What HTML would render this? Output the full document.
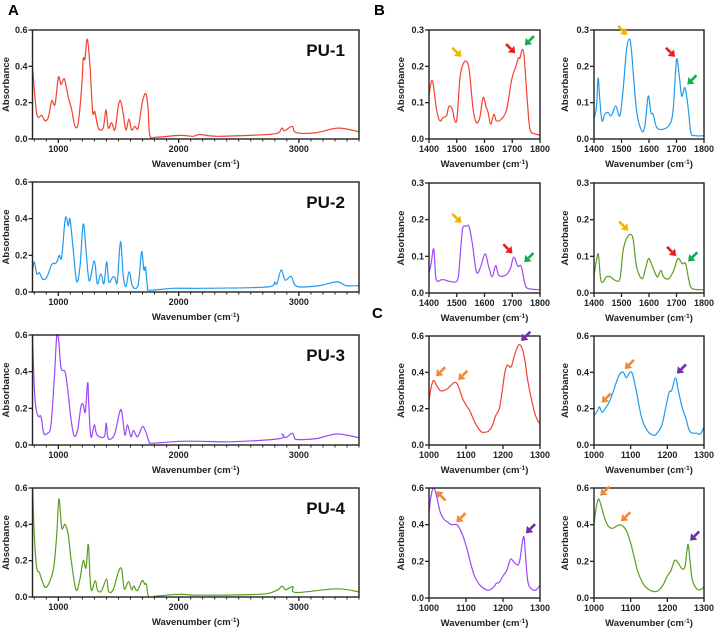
<!DOCTYPE html>
<html><head><meta charset="utf-8">
<style>
html,body{margin:0;padding:0;background:#fff;}
svg{display:block;font-family:"Liberation Sans",Arial,sans-serif;}
</style></head>
<body>
<svg id="fig" width="714" height="629" viewBox="0 0 714 629" xmlns="http://www.w3.org/2000/svg">
<text x="8" y="15" font-size="15" font-weight="bold">A</text>
<text x="374" y="15" font-size="15" font-weight="bold">B</text>
<text x="372" y="318" font-size="15" font-weight="bold">C</text>
</svg>
<script>
// ---------- data (wavenumber, absorbance) ----------
const pu1Wave=[785,820,862,889,917,945,972,1000,1022,1050,1083,1111,1138,1166,1194,1207,1221,1241,1263,1285,1304,1332,1373,1396,1415,1443,1470,1498,1517,1539,1562,1587,1609,1636,1664,1697,1728,1747,1761,1816,2010,2120,2175,2314,2590,2812,2859,2881,2945,2978,3144,3324,3500];
const pu1Abs=[0.40,0.14,0.13,0.10,0.12,0.21,0.19,0.34,0.30,0.33,0.23,0.16,0.07,0.09,0.29,0.44,0.44,0.55,0.40,0.15,0.15,0.06,0.06,0.16,0.06,0.09,0.05,0.18,0.21,0.14,0.05,0.11,0.05,0.07,0.06,0.20,0.25,0.16,0.02,0.01,0.02,0.015,0.025,0.015,0.02,0.03,0.06,0.045,0.07,0.035,0.035,0.06,0.04];
const pu2Wave=[785,800,820,842,870,903,945,972,992,1008,1028,1055,1069,1083,1097,1119,1152,1180,1207,1230,1257,1299,1324,1354,1379,1401,1420,1451,1470,1490,1517,1539,1562,1589,1617,1664,1692,1711,1725,1741,1761,1954,2175,2673,2784,2798,2817,2853,2886,2936,2986,3171,3315,3393,3500];
const pu2Abs=[0.11,0.165,0.10,0.105,0.07,0.08,0.15,0.155,0.17,0.20,0.19,0.39,0.40,0.36,0.40,0.26,0.06,0.14,0.37,0.23,0.06,0.17,0.045,0.10,0.045,0.165,0.055,0.08,0.08,0.055,0.275,0.09,0.03,0.11,0.03,0.04,0.22,0.12,0.135,0.03,0.01,0.02,0.02,0.025,0.035,0.055,0.045,0.12,0.065,0.085,0.03,0.035,0.055,0.035,0.035];
const pu3Wave=[785,800,814,834,856,878,911,939,967,986,1003,1022,1055,1077,1105,1132,1160,1188,1207,1224,1244,1252,1271,1299,1321,1382,1398,1415,1465,1506,1526,1553,1575,1603,1625,1658,1700,1728,1754,1782,2010,2175,2452,2840,2860,2890,2945,2964,2986,3144,3315,3500];
const pu3Abs=[0.6,0.31,0.20,0.155,0.155,0.065,0.065,0.11,0.37,0.59,0.57,0.42,0.40,0.31,0.14,0.05,0.08,0.21,0.22,0.18,0.34,0.23,0.045,0.11,0.055,0.045,0.12,0.035,0.055,0.17,0.185,0.055,0.11,0.045,0.08,0.045,0.10,0.07,0.02,0.01,0.02,0.02,0.018,0.035,0.06,0.04,0.065,0.04,0.03,0.035,0.06,0.04];
const pu4Wave=[787,800,820,842,870,903,958,986,1005,1028,1055,1083,1105,1147,1180,1207,1230,1249,1263,1277,1307,1327,1360,1401,1418,1456,1498,1526,1548,1584,1609,1628,1656,1697,1719,1733,1752,1816,2010,2175,2673,2812,2859,2889,2950,2978,3315,3500];
const pu4Abs=[0.6,0.34,0.16,0.135,0.08,0.055,0.15,0.34,0.54,0.38,0.40,0.34,0.21,0.04,0.10,0.20,0.16,0.29,0.11,0.035,0.09,0.035,0.035,0.10,0.03,0.04,0.135,0.155,0.045,0.085,0.04,0.06,0.035,0.09,0.07,0.07,0.0,0.005,0.015,0.01,0.015,0.035,0.06,0.04,0.057,0.025,0.045,0.028];

const b1Wave=[1400,1406,1414,1427,1439,1451,1463,1472,1484,1493,1501,1511,1520,1533,1545,1559,1571,1583,1595,1605,1613,1622,1634,1643,1661,1680,1698,1713,1722,1728,1736,1743,1754,1764,1782,1800];
const b1Abs=[0.118,0.15,0.156,0.082,0.05,0.059,0.064,0.09,0.082,0.05,0.059,0.164,0.20,0.215,0.19,0.082,0.045,0.059,0.114,0.09,0.073,0.041,0.068,0.05,0.055,0.082,0.164,0.20,0.223,0.223,0.247,0.223,0.109,0.027,0.014,0.011];
const b2Wave=[1400,1409,1415,1421,1429,1439,1451,1463,1479,1494,1506,1518,1528,1536,1554,1573,1585,1597,1607,1615,1628,1652,1676,1688,1700,1710,1719,1731,1743,1752,1768,1800];
const b2Abs=[0.055,0.09,0.168,0.109,0.05,0.068,0.073,0.064,0.091,0.064,0.136,0.245,0.275,0.245,0.082,0.023,0.036,0.118,0.073,0.068,0.032,0.027,0.041,0.082,0.218,0.173,0.118,0.141,0.082,0.018,0.009,0.009];
const b3Wave=[1400,1408,1417,1424,1432,1444,1456,1474,1503,1512,1521,1533,1545,1557,1571,1586,1602,1614,1628,1640,1652,1675,1693,1705,1720,1732,1746,1758,1800];
const b3Abs=[0.053,0.082,0.12,0.045,0.032,0.036,0.036,0.032,0.036,0.10,0.175,0.182,0.18,0.13,0.057,0.071,0.107,0.075,0.044,0.075,0.048,0.048,0.066,0.098,0.073,0.073,0.025,0.012,0.009];
const b4Wave=[1400,1409,1416,1424,1433,1445,1460,1476,1494,1506,1518,1533,1543,1555,1574,1586,1598,1611,1623,1632,1643,1653,1672,1690,1705,1721,1733,1745,1757,1800];
const b4Abs=[0.048,0.089,0.105,0.039,0.03,0.044,0.044,0.035,0.039,0.116,0.148,0.16,0.144,0.071,0.039,0.062,0.094,0.075,0.053,0.044,0.062,0.044,0.039,0.062,0.094,0.08,0.08,0.035,0.012,0.009];

const c1Wave=[1000,1005,1012,1020,1030,1040,1050,1060,1070,1078,1090,1100,1110,1125,1140,1150,1160,1170,1180,1190,1198,1205,1212,1222,1232,1242,1250,1258,1265,1272,1285,1295,1300];
const c1Abs=[0.24,0.31,0.355,0.33,0.30,0.30,0.31,0.33,0.345,0.33,0.26,0.22,0.19,0.12,0.075,0.07,0.075,0.10,0.16,0.20,0.30,0.40,0.44,0.43,0.50,0.55,0.54,0.48,0.38,0.30,0.18,0.13,0.12];
const c2Wave=[1000,1010,1015,1022,1030,1040,1050,1060,1070,1080,1088,1098,1105,1115,1130,1145,1160,1170,1185,1195,1205,1212,1222,1230,1240,1250,1260,1270,1280,1290,1300];
const c2Abs=[0.16,0.19,0.21,0.18,0.20,0.23,0.28,0.34,0.39,0.40,0.37,0.40,0.39,0.30,0.15,0.08,0.055,0.06,0.11,0.20,0.29,0.30,0.37,0.30,0.21,0.15,0.08,0.065,0.065,0.06,0.10];
const c3Wave=[1000,1005,1012,1020,1030,1040,1050,1060,1075,1085,1095,1105,1115,1125,1140,1155,1165,1175,1182,1190,1200,1210,1220,1228,1238,1245,1252,1257,1262,1268,1280,1290,1300];
const c3Abs=[0.46,0.55,0.60,0.56,0.47,0.43,0.415,0.40,0.40,0.37,0.32,0.25,0.17,0.11,0.065,0.045,0.045,0.06,0.08,0.085,0.12,0.15,0.21,0.20,0.18,0.20,0.30,0.33,0.20,0.08,0.045,0.045,0.07];
const c4Wave=[1000,1005,1012,1020,1030,1040,1050,1060,1070,1080,1090,1100,1110,1120,1135,1150,1165,1175,1188,1200,1210,1220,1230,1240,1248,1253,1257,1262,1268,1280,1290,1300];
const c4Abs=[0.40,0.48,0.54,0.50,0.43,0.39,0.38,0.39,0.40,0.39,0.36,0.30,0.22,0.14,0.075,0.045,0.035,0.04,0.07,0.12,0.15,0.205,0.19,0.16,0.17,0.25,0.29,0.20,0.10,0.05,0.045,0.06];

const b1ArrowX=[1522,1716,1740], b1ArrowY=[0.222,0.232,0.254];
const b2ArrowX=[1526,1700,1734], b2ArrowY=[0.282,0.222,0.146];
const b3ArrowX=[1522,1706,1738], b3ArrowY=[0.187,0.104,0.080];
const b4ArrowX=[1530,1704,1737], b4ArrowY=[0.166,0.097,0.082];
const c1ArrowX=[1015,1075,1245], c1ArrowY=[0.37,0.35,0.565];
const c2ArrowX=[1017,1080,1222], c2ArrowY=[0.225,0.41,0.385];
const c3ArrowX=[1016,1070,1258], c3ArrowY=[0.59,0.405,0.345];
const c4ArrowX=[1013,1070,1258], c4ArrowY=[0.55,0.41,0.305];

const xTicksA=[1000,2000,3000], yTicksA=[0,0.2,0.4,0.6];
const xTicksB=[1400,1500,1600,1700,1800], yTicksB=[0,0.1,0.2,0.3];
const xTicksC=[1000,1100,1200,1300], yTicksC=[0,0.2,0.4,0.6];

const NS='http://www.w3.org/2000/svg';
const svg=document.getElementById('fig');
function mk(tag,attrs,parent){const e=document.createElementNS(NS,tag);for(const k in attrs)e.setAttribute(k,attrs[k]);(parent||svg).appendChild(e);return e;}
const COL={yellow:'#f5b400',red:'#ee1c1c',green:'#0fae4b',orange:'#f0883a',purple:'#7030a0'};

function smoothPath(P){
  let d='M'+P[0][0].toFixed(1)+','+P[0][1].toFixed(1);
  for(let i=0;i<P.length-1;i++){
    const p0=P[Math.max(0,i-1)],p1=P[i],p2=P[i+1],p3=P[Math.min(P.length-1,i+2)];
    const k=1/6;
    const c1x=p1[0]+(p2[0]-p0[0])*k, c1y=p1[1]+(p2[1]-p0[1])*k;
    const c2x=p2[0]-(p3[0]-p1[0])*k, c2y=p2[1]-(p3[1]-p1[1])*k;
    d+='C'+c1x.toFixed(1)+','+c1y.toFixed(1)+' '+c2x.toFixed(1)+','+c2y.toFixed(1)+' '+p2[0].toFixed(1)+','+p2[1].toFixed(1);
  }
  return d;
}

function panel(name,cfg){
  const g=mk('g',{});
  
  
  const sx=v=>cfg.l+(v-cfg.x0)/(cfg.x1-cfg.x0)*(cfg.r-cfg.l);
  const sy=v=>cfg.b-(v/cfg.ymax)*(cfg.b-cfg.t);
  const pts=cfg.wx.map((w,i)=>[sx(w),sy(cfg.ab[i])]);
  const clip=mk('clipPath',{id:name+'-clip'},g);
  mk('rect',{x:cfg.l,y:cfg.t-1,width:cfg.r-cfg.l,height:cfg.b-cfg.t+1},clip);
  const line=mk('path',{d:smoothPath(pts),fill:'none',stroke:cfg.color,'stroke-width':1.2,'stroke-linejoin':'round','clip-path':'url(#'+name+'-clip)'},g);
  
  
  const fr=mk('rect',{x:cfg.l,y:cfg.t,width:cfg.r-cfg.l,height:cfg.b-cfg.t,fill:'none',stroke:'#222','stroke-width':1.4},g);
  
  
  if(cfg.minor){for(let v=Math.ceil(cfg.x0/100)*100;v<=cfg.x1;v+=100){mk('line',{x1:sx(v),x2:sx(v),y1:cfg.b,y2:cfg.b+2.5,stroke:'#222','stroke-width':1},g);}}
  cfg.xt.forEach(v=>{
    mk('line',{x1:sx(v),x2:sx(v),y1:cfg.b,y2:cfg.b+4,stroke:'#222','stroke-width':1.3},g);
    const t=mk('text',{x:sx(v),y:cfg.b+13,'font-size':9,'font-weight':'bold','text-anchor':'middle',fill:'#222'},g);
    t.textContent=v;
    
    
  });
  cfg.yt.forEach(v=>{
    mk('line',{x1:cfg.l-4,x2:cfg.l,y1:sy(v),y2:sy(v),stroke:'#222','stroke-width':1.3},g);
    const t=mk('text',{x:cfg.l-5,y:sy(v)+3,'font-size':9,'font-weight':'bold','text-anchor':'end',fill:'#222'},g);
    t.textContent=v.toFixed(1);
    
    
  });
  const xt=mk('text',{x:(cfg.l+cfg.r)/2,y:cfg.b+28,'font-size':9.5,'font-weight':'bold','text-anchor':'middle',fill:'#222'},g);
  xt.innerHTML='Wavenumber (cm<tspan dy="-3" font-size="6.5">-1</tspan><tspan dy="3">)</tspan>';
  
  
  const cy=(cfg.t+cfg.b)/2;
  const yt=mk('text',{x:cfg.yx,y:cy,'font-size':9.5,'font-weight':'bold','text-anchor':'middle',fill:'#222',transform:'rotate(-90 '+cfg.yx+' '+cy+')'},g);
  yt.textContent='Absorbance';
  
  
  if(cfg.label){
    const lt=mk('text',{x:cfg.r-14,y:cfg.t+26,'font-size':17,'font-weight':'bold','text-anchor':'end',fill:'#111'},g);
    lt.textContent=cfg.label;
    
    
  }
  if(cfg.ax){
    cfg.ax.forEach((v,i)=>{
      const px=sx(v), py=sy(cfg.ay[i]);
      const dir=cfg.adir[i];
      let dx=dir==='ul'?-1:1, dy=dir==='dr'?1:-1;
      const L=13, n=Math.SQRT1_2;
      const ux=dx*n, uy=dy*n;
      const tipx=px+ux*2, tipy=py+uy*2;
      const tailx=tipx+ux*L, taily=tipy+uy*L;
      const c=COL[cfg.acol[i]];
      const ag=mk('g',{},g);
      
      
      const hx=tipx+ux*6, hy=tipy+uy*6;
      mk('line',{x1:tailx,y1:taily,x2:hx,y2:hy,stroke:c,'stroke-width':2.6},ag);
      const pxn=-uy, pyn=ux;
      mk('polygon',{points:tipx+','+tipy+' '+(hx+pxn*4.5)+','+(hy+pyn*4.5)+' '+(hx-pxn*4.5)+','+(hy-pyn*4.5),fill:c},ag);
    });
  }
}

const A=(t,b)=>({l:32.5,r:359,t:t,b:b,x0:785,x1:3500,ymax:0.6,xt:xTicksA,yt:yTicksA,minor:true,yx:9});
panel('pu1-full-spectrum',Object.assign(A(30,139),{wx:pu1Wave,ab:pu1Abs,color:'#f5402c',label:'PU-1'}));
panel('pu2-full-spectrum',Object.assign(A(182,292),{wx:pu2Wave,ab:pu2Abs,color:'#1f9bf0',label:'PU-2'}));
panel('pu3-full-spectrum',Object.assign(A(335,445),{wx:pu3Wave,ab:pu3Abs,color:'#9b48f7',label:'PU-3'}));
panel('pu4-full-spectrum',Object.assign(A(488,597),{wx:pu4Wave,ab:pu4Abs,color:'#5a9e1e',label:'PU-4'}));

const BL={l:429,r:540,yx:404}, BR={l:594,r:704,yx:568};
const Bc=(side,t,b)=>Object.assign({t:t,b:b,x0:1400,x1:1800,ymax:0.3,xt:xTicksB,yt:yTicksB},side);
const bcol=['yellow','red','green'], bdir=['ul','ul','ur'];
panel('pu1-carbonyl-zoom',Object.assign(Bc(BL,30,139),{wx:b1Wave,ab:b1Abs,color:'#f5402c',ax:b1ArrowX,ay:b1ArrowY,acol:bcol,adir:bdir}));
panel('pu2-carbonyl-zoom',Object.assign(Bc(BR,30,139),{wx:b2Wave,ab:b2Abs,color:'#1f9bf0',ax:b2ArrowX,ay:b2ArrowY,acol:bcol,adir:bdir}));
panel('pu3-carbonyl-zoom',Object.assign(Bc(BL,183,293),{wx:b3Wave,ab:b3Abs,color:'#9b48f7',ax:b3ArrowX,ay:b3ArrowY,acol:bcol,adir:bdir}));
panel('pu4-carbonyl-zoom',Object.assign(Bc(BR,183,293),{wx:b4Wave,ab:b4Abs,color:'#5a9e1e',ax:b4ArrowX,ay:b4ArrowY,acol:bcol,adir:bdir}));

const Cc=(side,t,b)=>Object.assign({t:t,b:b,x0:1000,x1:1300,ymax:0.6,xt:xTicksC,yt:yTicksC},side);
const ccol=['orange','orange','purple'];
panel('pu1-ether-zoom',Object.assign(Cc(BL,336,445),{wx:c1Wave,ab:c1Abs,color:'#f5402c',ax:c1ArrowX,ay:c1ArrowY,acol:ccol,adir:['ur','ur','ur']}));
panel('pu2-ether-zoom',Object.assign(Cc(BR,336,445),{wx:c2Wave,ab:c2Abs,color:'#1f9bf0',ax:c2ArrowX,ay:c2ArrowY,acol:ccol,adir:['ur','ur','ur']}));
panel('pu3-ether-zoom',Object.assign(Cc(BL,488,598),{wx:c3Wave,ab:c3Abs,color:'#9b48f7',ax:c3ArrowX,ay:c3ArrowY,acol:ccol,adir:['dr','ur','ur']}));
panel('pu4-ether-zoom',Object.assign(Cc(BR,488,598),{wx:c4Wave,ab:c4Abs,color:'#5a9e1e',ax:c4ArrowX,ay:c4ArrowY,acol:ccol,adir:['ur','ur','ur']}));
</script>
</body></html>
